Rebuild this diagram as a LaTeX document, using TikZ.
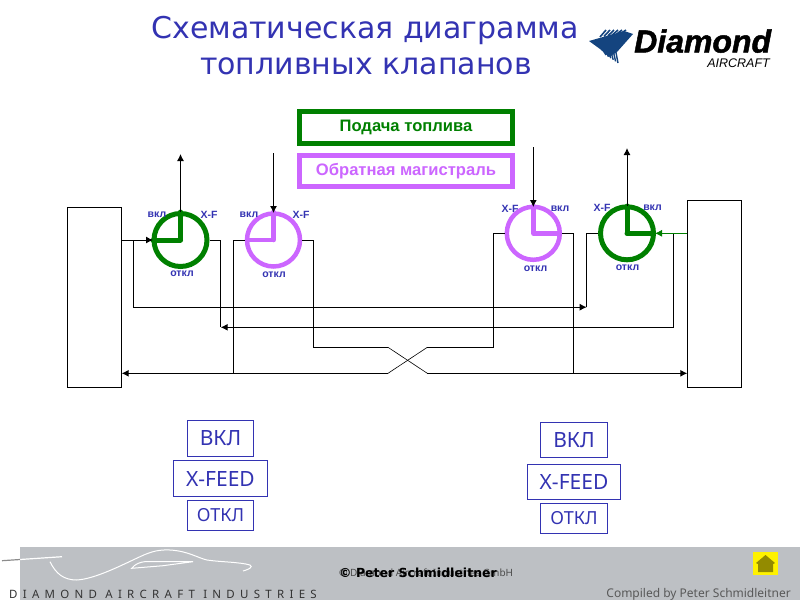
\documentclass[tikz,border=0pt]{standalone}
\usepackage{fontspec}
\setmainfont{Noto Sans}
\newfontfamily\titlefont{DejaVu Sans}
\newfontfamily\arialf{Liberation Sans}
\usetikzlibrary{arrows.meta}
\definecolor{ttl}{HTML}{3333B2}
\definecolor{grn}{HTML}{008000}
\definecolor{pur}{HTML}{CC66FF}
\definecolor{band}{HTML}{BDC0C4}
\definecolor{navy}{HTML}{14447F}
\tikzset{
  tank/.style={draw=black,line width=1pt,minimum width=53.4pt,minimum height=180pt,inner sep=0},
  gvalve/.style={circle,draw=grn,line width=5pt,minimum size=53pt,inner sep=0},
  pvalve/.style={circle,draw=pur,line width=4.5pt,minimum size=53pt,inner sep=0},
  ghand/.style={draw=grn,line width=5pt,line cap=round},
  phand/.style={draw=pur,line width=4.5pt,line cap=round},
  pipe/.style={draw=black,line width=1pt},
  arr/.style={pipe,-{Latex[length=7pt,width=7pt]}},
  lab/.style={font=\arialf\fontsize{10.5}{10.5}\selectfont\bfseries,text=ttl,inner sep=0},
  leg/.style={line width=4.5pt,fill=white,inner sep=0,font=\arialf\fontsize{16.6}{16.6}\selectfont\bfseries},
  sel/.style={draw=ttl,line width=0.9pt,text=ttl,inner sep=0,font=\fontsize{21}{21}\selectfont},
  ttlt/.style={text=ttl,inner sep=0,font=\titlefont\fontsize{30}{30}\selectfont}
}
\begin{document}
\begin{tikzpicture}[x=1pt,y=-1pt]
\useasboundingbox (0,0) rectangle (800,600);
% footer
\fill[band] (20,547) rectangle (800,600);
\draw[white,line width=1.2pt] (20,559.5) -- (62,556.7);
\draw[black!45,line width=1.2pt] (2,560.7) -- (20,559.5);
\draw[white,line width=1pt] (50,561.7) .. controls (56,574) and (64,580) .. (76.7,580) .. controls (95,579) and (122,565) .. (140,556.7) .. controls (152,551) and (160,549.5) .. (170,550) .. controls (188,551) and (198,558) .. (207,560) .. controls (220,562) and (240,562) .. (250,565) .. controls (253,567) and (250,569) .. (243,571);
\draw[white,line width=1pt] (131.7,568.3) .. controls (135,564) and (140,562) .. (146,561.5) -- (193,561.7) -- (163,565.7) -- cycle;
\node[inner sep=0,anchor=west,text=black!80,font=\fontsize{11.5}{11.5}\selectfont] (ind) at (9,594) {\addfontfeature{LetterSpace=46}DIAMOND AIRCRAFT INDUSTRIES};
\node[inner sep=0,anchor=west,text=black!70,font=\fontsize{10}{10}\selectfont] (cp1) at (339,573) {© Diamond Aircraft Industries GmbH};
\node[inner sep=0,anchor=west,font=\titlefont\fontsize{12.5}{12.5}\selectfont\bfseries] (cp2) at (339,572.5) {© Peter Schmidleitner};
\node[inner sep=0,anchor=east,text=black!65,font=\fontsize{12}{12}\selectfont] (cmp) at (791,594) {Compiled by Peter Schmidleitner};
\fill[yellow] (753,552) rectangle (778,575);
\fill[olive!95!yellow] (765.5,555) -- (775,563) -- (773,564) -- (773,572) -- (758,572) -- (758,564) -- (756,563) -- cycle;
% title
\node[ttlt] (t1) at (365,30) {Схематическая диаграмма};
\node[ttlt] (t2) at (366,66) {топливных клапанов};
% logo
\fill[navy] (589,41) -- (603,37) -- (624,31) -- (633,34) -- (617,52) -- (609,57) -- (600,49) -- cycle;
\foreach \i in {0,...,5}{\draw[navy,line width=1.6pt] ({600+\i*4},{37-\i*0.6}) -- ({606+\i*4},{30});}
\foreach \i in {0,...,5}{\draw[navy,line width=1.4pt] ({603+\i*2.5},{50}) -- ({606+\i*2.4},{55+\i*1.6});}
\node[inner sep=0,anchor=base west,font=\arialf\fontsize{32}{32}\selectfont\bfseries\itshape] (lg1) at (634,52.5) {\addfontfeature{FakeBold=1.5}Diamond};
\node[inner sep=0,anchor=base east,font=\arialf\fontsize{12.5}{12.5}\selectfont\itshape] (lg2) at (770,67) {AIRCRAFT};
% tanks
\node[tank,anchor=north west] (lt) at (67.3,207.3) {};
\node[tank,anchor=north west,minimum height=187pt] (rt) at (687.3,200.3) {};
% legend
\node[leg,draw=grn,text=grn,minimum width=213.2pt,minimum height=32pt] (lg) at (406,127.5) {Подача топлива};
\node[leg,draw=pur,text=pur,minimum width=213.2pt,minimum height=31.2pt] (lp) at (406,170.9) {Обратная магистраль};
% coordinates
\coordinate (g1top) at (180,154);
\coordinate (p1top) at (273.5,153);
\coordinate (p2top) at (533.3,147);
\coordinate (g2top) at (627,148);
% valves
\node[gvalve] (v1) at (180.5,240) {};
\node[pvalve] (v2) at (273.5,240) {};
\node[pvalve] (v3) at (533.3,233.3) {};
\node[gvalve] (v4) at (627,233.3) {};
\draw[ghand] (v1.center) -- (v1.center |- 0,212) (v1.center) -- (153,240);
\draw[phand] (v2.center) -- (273.5,212) (v2.center) -- (247,240);
\draw[phand] (v3.center) -- (533.3,206) (v3.center) -- (560,233.3);
\draw[ghand] (v4.center) -- (627,206) (v4.center) -- (653,233.3);
\draw[arr] (180.5,212) -- (180.5,154);
\draw[arr] (p1top) -- (273.5,213);
\draw[arr] (p2top) -- (533.3,207);
\draw[arr] (627,206) -- (g2top);
\coordinate (lin) at (lt.east |- v1);
\coordinate (rout) at (rt.west |- v4);
\coordinate (xa) at (388,373.3);
\coordinate (xb) at (427.3,347.3);
\coordinate (xc) at (388,347.3);
\coordinate (xd) at (427.3,373.3);
\draw[arr] (lin) -- (153,240);
\draw[arr] (133.3,240) -- (133.3,307.2) -- (586.7,307.2);
\draw[pipe] (586.7,307.2) -- (586.7,233.3) -- (v4.west);
\draw[pipe] (v1.east) -- (220.7,240) -- (220.7,327.3);
\draw[arr] (673.3,233.3) -- (673.3,327.3) -- (220.7,327.3);
\draw[grn,line width=0.8pt,-{Latex[length=7pt,width=7pt]}] (rout) -- (655,233.3);
\draw[pipe] (v2.west) -- (233.3,240) -- (233.3,373.3);
\draw[arr] (xa) -- (lt.east |- xa);
\draw[pipe,line width=0.6pt] (xa) -- (xb);
\draw[pipe] (xb) -- (493.3,347.3) -- (493.3,233.3) -- (v3.west);
\draw[pipe] (v2.east) -- (313.3,240) -- (313.3,347.3) -- (xc);
\draw[pipe,line width=0.6pt] (xc) -- (xd);
\draw[arr] (xd) -- (rt.west |- xd);
\draw[pipe] (v3.east) -- (573.3,233.3) -- (573.3,373.3);
% labels
\node[lab] (a1) at (157,215) {вкл};
\node[lab] (a2) at (209,215) {X-F};
\node[lab] (a3) at (182,274) {откл};
\node[lab] (b1) at (249,215) {вкл};
\node[lab] (b2) at (301,215) {X-F};
\node[lab] (b3) at (274,275) {откл};
\node[lab] (c1) at (510,209) {X-F};
\node[lab] (c2) at (560,209) {вкл};
\node[lab] (c3) at (535.5,269) {откл};
\node[lab] (d1) at (602,208) {X-F};
\node[lab] (d2) at (652.5,208) {вкл};
\node[lab] (d3) at (627.5,268) {откл};
% selector boxes
\node[sel,minimum width=66.4pt,minimum height=36pt] (s1) at (220.5,438.3) {ВКЛ};
\node[sel,minimum width=94.4pt,minimum height=36.4pt] (s2) at (220.5,478.5) {X-FEED};
\node[sel,minimum width=66.4pt,minimum height=30pt,font=\fontsize{18}{18}\selectfont] (s3) at (220.5,515.3) {ОТКЛ};
\node[sel,minimum width=67.4pt,minimum height=35.4pt] (r1) at (574,440) {ВКЛ};
\node[sel,minimum width=93.4pt,minimum height=35.3pt] (r2) at (574,481.7) {X-FEED};
\node[sel,minimum width=67.4pt,minimum height=30pt,font=\fontsize{18}{18}\selectfont] (r3) at (574,518.3) {ОТКЛ};
\end{tikzpicture}
\end{document}
